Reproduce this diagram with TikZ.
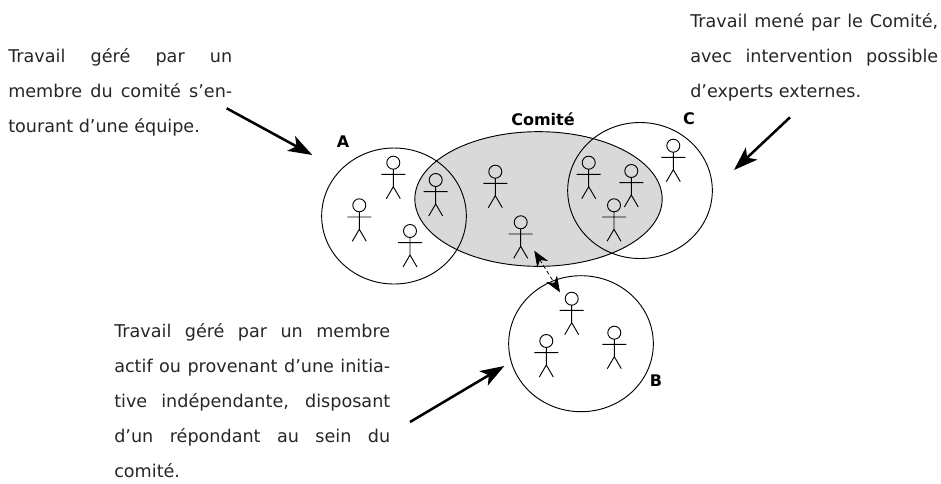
\documentclass[tikz,border=0pt]{standalone}
\usepackage{fontspec}
\setmainfont{DejaVu Sans}
\usepackage{xcolor}
\usepackage{tikz}
\usetikzlibrary{arrows.meta,shapes.geometric,positioning}
\definecolor{comite gray}{rgb}{0.85, 0.85, 0.85}
\definecolor{note ink}{rgb}{0.15, 0.15, 0.15}

\begin{document}
\begin{tikzpicture}
      [x=0.75pt, y=-0.75pt, circle group/.style = {shape=ellipse, draw=black,
        line width=0.7pt, inner sep=0pt, minimum width=108.5pt,
        minimum height=102pt}, comite node/.style = {shape=ellipse, draw=black,
        fill=comite gray, line width=0.7pt, inner sep=0pt,
        minimum width=185.5pt, minimum height=101pt}, group label/.style =
      {font=\fontsize{12}{14}\selectfont\bfseries, inner sep=0pt},
      note/.style = {anchor=north west, inner sep=0pt, text=note ink,
        align=justify, font=\fontsize{13.2}{26.2}\selectfont},
      post/.style={-{Stealth[length=18pt, width=12.5pt, inset=4.5pt]},
        line width=1.9pt},
      link/.style={{Stealth[length=12pt, width=9.5pt]}-{Stealth[length=12pt,
          width=9.5pt]}, densely dashed, line width=0.6pt},
      pics/person/.style={code={
          \draw[line width=0.7pt] (0,0) circle (6.5) (0,6.5) -- (0,24)
          (-12,11.7) -- (12,11.7) (-7,36) -- (0,24) -- (7,36);}}]

      \useasboundingbox (0,0) rectangle (941,483);

      \node [comite node] (Comite) at (538.5,199) {};
      \node [circle group] (GroupA) at (394,216) {};
      \node [circle group] (GroupC) at (640,190.5) {};
      \node [circle group] (GroupB) at (581,343.7) {};

      \node [group label] (LabelComite) at (543,119) {Comité};
      \node [group label] (LabelA) at (343,142) {A};
      \node [group label] (LabelC) at (689,119) {C};
      \node [group label] (LabelB) at (656,381) {B};

      % members of each group
      \foreach \px/\py in {393.3/162.7, 359.3/205.3, 410/231, 435.7/180,
        495.3/171.7, 520.7/222.3, 588.7/162.7, 631.3/171, 614/205.3,
        673.3/145.7, 571.7/298.7, 546.3/341, 614.3/332.7}
      \pic at (\px,\py) {person};

      \node [note, text width=168pt] (NoteA) at (8,48)
      {Travail géré par un\linebreak membre du comité s’en-\linebreak
        tourant d’une équipe.};
      \node [note, text width=186pt] (NoteC) at (690,13)
      {Travail mené par le Comité,\linebreak avec intervention possible\linebreak
        d’experts externes.};
      \node [note, text width=207pt] (NoteB) at (114,323)
      {Travail géré par un membre\linebreak actif ou provenant d’une initia-\linebreak
        tive indépendante, disposant\linebreak d’un répondant au sein du\linebreak
        comité.};

      \coordinate (FromA) at (226.7,108.3);
      \coordinate (ToA) at (312.3,155);
      \coordinate (FromC) at (790,117.3);
      \coordinate (ToC) at (734,170);
      \coordinate (FromB) at (410,422);
      \coordinate (ToB) at (504.3,366);
      \coordinate (LinkTop) at (534.3,250.7);
      \coordinate (LinkBottom) at (560,292.3);

      \draw[post] (FromA) -- (ToA);
      \draw[post] (FromC) -- (ToC);
      \draw[post] (FromB) -- (ToB);
      \draw[link] (LinkTop) -- (LinkBottom);
    \end{tikzpicture}
\end{document}
